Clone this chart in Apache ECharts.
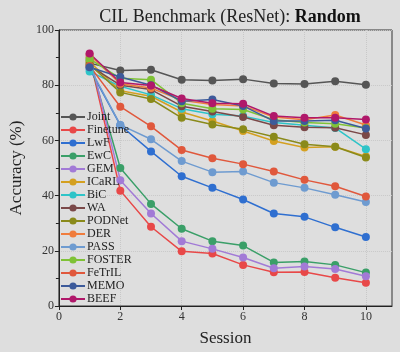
<!DOCTYPE html>
<html>
<head>
<meta charset="utf-8">
<script src="https://cdn.jsdelivr.net/npm/echarts@6/dist/echarts.min.js"></script>
<style>
  html, body { margin: 0; padding: 0; background: #dedede; }
  #chart { width: 400px; height: 352px; }
</style>
</head>
<body>
<div id="chart"></div>
<script>
var sessions = [1, 2, 3, 4, 5, 6, 7, 8, 9, 10]
var methods = ['Joint', 'Finetune', 'LwF', 'EwC', 'GEM', 'ICaRL', 'BiC', 'WA', 'PODNet', 'DER', 'PASS', 'FOSTER', 'FeTrIL', 'MEMO', 'BEEF']
var colors = ['#555555', '#e84848', '#2f6fd0', '#3a9f68', '#a27ad6', '#d4a020', '#2ec4c8', '#7a4848', '#8a8a1a', '#f07c3c', '#6e9bd0', '#7fc236', '#e0583c', '#3c5a9a', '#b0186a']

var joint = [88, 85.3, 85.6, 82, 81.7, 82.2, 80.6, 80.4, 81.4, 80.2]
var finetune = [90, 41.8, 28.7, 19.8, 19, 14.9, 12.2, 12.3, 10.2, 8.4]
var lwf = [86, 65.5, 56, 47, 42.8, 38.6, 33.5, 32.3, 28.5, 25]
var ewc = [89, 50, 37, 28, 23.5, 21.9, 15.8, 16.1, 14.9, 12.1]
var gem = [91, 45.6, 33.5, 23.5, 20.7, 17.6, 13.7, 14.3, 13.4, 10.8]
var icarl = [88.5, 78, 76, 70.3, 67, 63.4, 59.8, 57.4, 57.7, 54.2]
var bic = [85, 79.6, 76.5, 71.5, 69.5, 68.8, 66.5, 65.5, 64.5, 56.8]
var wa = [87, 80, 78.4, 72.4, 70.5, 68.5, 65.5, 64.8, 64.6, 62]
var podnet = [87.5, 77.4, 75, 68.2, 65.8, 64, 61.3, 58.6, 57.7, 53.8]
var der = [91, 80.5, 79, 74.5, 73, 72.5, 68.5, 67.5, 69.2, 65.6]
var pass = [86.5, 65.6, 60.4, 52.5, 48.5, 48.7, 44.7, 42.8, 40.3, 37.7]
var foster = [89.5, 82.5, 82, 73.5, 71.5, 71.2, 67.5, 66.5, 66, 64.5]
var fetril = [87, 72.2, 65.1, 56.5, 53.5, 51.4, 48.7, 45.7, 43.4, 39.7]
var memo = [86.5, 83, 80, 74.2, 74.8, 72.5, 67, 67, 67.3, 64.3]
var beef = [91.5, 81, 79.9, 75.2, 73.5, 73.3, 68.8, 68.2, 68.2, 67.6]

var values = [joint, finetune, lwf, ewc, gem, icarl, bic, wa, podnet, der, pass, foster, fetril, memo, beef]

var font = 'Liberation Serif'
var chart = echarts.init(document.getElementById('chart'))

var series = methods.map(function (name, i) {
  return {
    name: name,
    type: 'line',
    symbol: 'circle',
    symbolSize: 8,
    color: colors[i],
    lineStyle: { width: 1.5 },
    data: sessions.map(function (s, j) { return [s, values[i][j]] })
  }
})

chart.setOption({
  backgroundColor: '#dedede',
  animation: false,
  title: {
    text: '{n|CIL Benchmark (ResNet): }{b|Random}',
    left: 225,
    textAlign: 'center',
    top: 3,
    textStyle: {
      fontWeight: 'normal',
      rich: {
        n: { fontFamily: font, fontSize: 18, fontWeight: 'normal', color: '#222' },
        b: { fontFamily: font, fontSize: 18, fontWeight: 'bold', color: '#111' }
      }
    }
  },
  legend: {
    orient: 'vertical',
    left: 55,
    top: 106,
    itemGap: 1,
    itemWidth: 24,
    itemHeight: 9,
    textStyle: { fontFamily: font, fontSize: 12, color: '#222', padding: [0, 0, 0, -3] },
    data: methods
  },
  grid: {
    left: 53,
    right: 8,
    top: 30,
    bottom: 44,
    show: true,
    borderColor: '#333',
    borderWidth: 1
  },
  xAxis: {
    type: 'value',
    min: 0,
    max: 10.85,
    interval: 2,
    name: 'Session',
    nameLocation: 'middle',
    nameGap: 24,
    nameTextStyle: { fontFamily: font, fontSize: 17, color: '#222' },
    axisLine: { lineStyle: { color: '#222' } },
    axisTick: { length: 4, lineStyle: { color: '#222' }, customValues: [0, 2, 4, 6, 8, 10] },
    axisLabel: { fontFamily: font, fontSize: 12, color: '#333', margin: 5, customValues: [0, 2, 4, 6, 8, 10] },
    splitLine: { show: true, lineStyle: { color: '#c8c8c8', type: 'dotted' } }
  },
  yAxis: {
    type: 'value',
    min: 0,
    max: 100,
    interval: 20,
    name: 'Accuracy (%)',
    nameLocation: 'middle',
    nameGap: 30,
    nameTextStyle: { fontFamily: font, fontSize: 17, color: '#222' },
    axisLine: { show: true, lineStyle: { color: '#222' } },
    axisTick: { show: true, length: 4, lineStyle: { color: '#222' } },
    minorTick: { show: true, splitNumber: 2, length: 3, lineStyle: { color: '#222' } },
    axisLabel: { fontFamily: font, fontSize: 12, color: '#333', margin: 5 },
    splitLine: { show: true, lineStyle: { color: '#c8c8c8', type: 'dotted' } }
  },
  series: series
})
</script>
</body>
</html>
